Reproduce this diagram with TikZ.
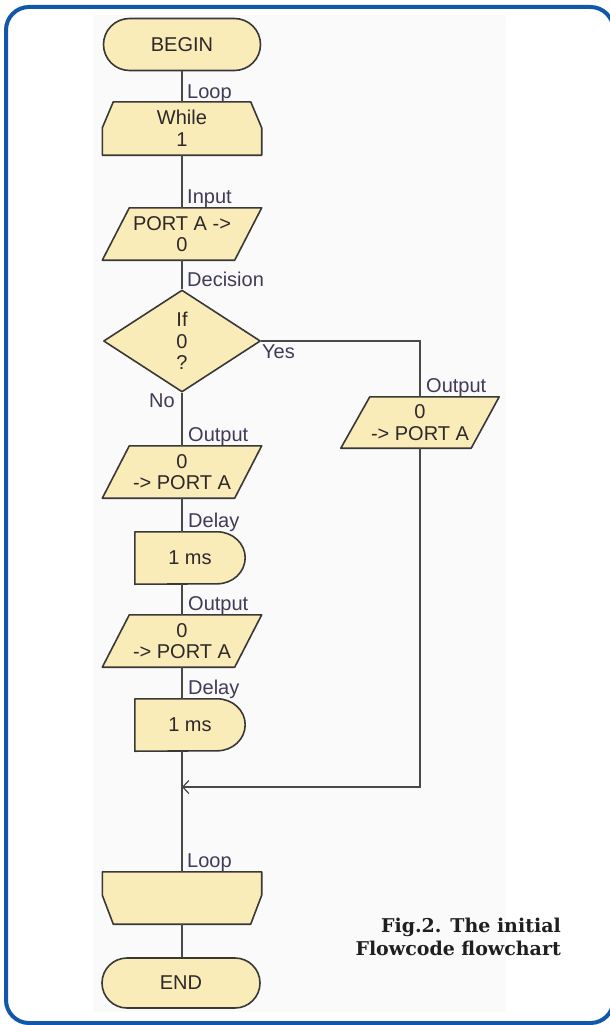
\documentclass[tikz,border=0pt]{standalone}
\usepackage{fontspec}
\setmainfont{Liberation Sans}
\newfontfamily\capfont{DejaVu Serif}
\usetikzlibrary{shapes.misc,shapes.geometric,arrows.meta,backgrounds}
\definecolor{frameblue}{RGB}{18,88,168}
\definecolor{boxfill}{RGB}{250,236,184}
\definecolor{boxline}{RGB}{58,55,55}
\definecolor{wirecol}{RGB}{72,72,72}
\definecolor{lblcol}{RGB}{66,58,86}
\definecolor{txtcol}{RGB}{45,40,42}
\definecolor{bgpanel}{RGB}{250,250,250}
\begin{document}
\begin{tikzpicture}[x=1pt,y=-1pt,
  every node/.style={font=\fontsize{20}{21.5}\selectfont, text=txtcol, align=center, inner sep=0pt},
  shp/.style={draw=boxline, fill=boxfill, line width=1.6pt, line join=round},
  holder/.style={rectangle, minimum width=#1},
  terminal/.style={shp, rounded rectangle, minimum width=157pt, minimum height=52pt},
  wire/.style={draw=wirecol, line width=2pt},
  wirelabel/.style={anchor=base west, text=lblcol},
]
\useasboundingbox (0,0) rectangle (610,1025);
\begin{pgfonlayer}{background}
  \fill[bgpanel] (93,15) rectangle (506,1012);
  \begin{scope}
    \clip (0,0) rectangle (610,1025);
    \draw[frameblue, line width=4pt, rounded corners=23pt] (6,7) rectangle (613.5,1023);
  \end{scope}
\end{pgfonlayer}

% nodes
\node[terminal] (begin) at (182,44.5) {BEGIN};
\node[holder=159pt, minimum height=53pt] (while) at (182,128.5) {While\\1};
\node[holder=159pt, minimum height=52pt] (input) at (182,234) {PORT A ->\\0};
\node[shp, diamond, minimum width=157pt, minimum height=102pt] (dec) at (182,341) {If\\0\\?};
\node[holder=158pt, minimum height=51pt] (outy) at (420,422.5) {0\\-> PORT A};
\node[holder=159pt, minimum height=52pt] (out1) at (182,472) {0\\-> PORT A};
\node[holder=110pt, minimum height=52pt] (del1) at (190,558) {1 ms};
\node[holder=159pt, minimum height=52pt] (out2) at (182,641) {0\\-> PORT A};
\node[holder=110pt, minimum height=52pt] (del2) at (190,725) {1 ms};
\node[holder=159pt, minimum height=52pt] (loopend) at (182,898) {};
\node[terminal, minimum width=158pt, minimum height=50pt] (end) at (181,983) {END};
\coordinate (merge) at (182,787);

% custom outlines
\begin{pgfonlayer}{background}
  \draw[shp] ([xshift=11pt]while.north west) -- ([xshift=-11pt]while.north east)
     -- ([yshift=-26pt]while.north east) -- (while.south east) -- (while.south west)
     -- ([yshift=-26pt]while.north west) -- cycle;
  \foreach \n in {input,out1,out2}{
    \draw[shp] ([xshift=27pt]\n.north west) -- (\n.north east)
       -- ([xshift=-27pt]\n.south east) -- (\n.south west) -- cycle;
  }
  \draw[shp] ([xshift=29pt]outy.north west) -- (outy.north east)
     -- ([xshift=-28pt]outy.south east) -- (outy.south west) -- cycle;
  \foreach \n in {del1,del2}{
    \draw[shp] (\n.north west) -- ([xshift=-28pt]\n.north east)
       arc[start angle=90, end angle=-90, x radius=28pt, y radius=26pt]
       -- (\n.south west) -- cycle;
  }
  \draw[shp] (loopend.north west) -- (loopend.north east)
     -- ([yshift=29pt]loopend.south east) -- ([xshift=-11pt]loopend.south east)
     -- ([xshift=11pt]loopend.south west) -- ([yshift=29pt]loopend.south west) -- cycle;
\end{pgfonlayer}

% connectors
\draw[wire] (begin.south) -- (while.north);
\draw[wire] (while.south) -- (input.north);
\draw[wire] (input.south) -- (dec.north);
\draw[wire] (dec.east) -| (outy.north);
\draw[wire] (dec.south) -- (out1.north);
\draw[wire] (out1.south) -- (out1.south |- del1.north);
\draw[wire] (out1.south |- del1.south) -- (out2.north);
\draw[wire] (out2.south) -- (out2.south |- del2.north);
\draw[wire] (out2.south |- del2.south) -- (loopend.north);
\draw[wire] (loopend.south) -- (loopend.south |- end.north);
\draw[wire, -{Straight Barb[length=6pt, width=13pt, line width=1.2pt]}] (outy.south) |- (merge);

% labels
\node[wirelabel] (l1) at (187,99) {Loop};
\node[wirelabel] (l2) at (187,203.5) {Input};
\node[wirelabel] (l3) at (187,286) {Decision};
\node[wirelabel] (l4) at (262,358) {Yes};
\node[wirelabel] (l5) at (426,392) {Output};
\node[wirelabel, anchor=base east] (l6) at (175,407) {No};
\node[wirelabel] (l7) at (188,441.5) {Output};
\node[wirelabel] (l8) at (188,527) {Delay};
\node[wirelabel] (l9) at (188,610) {Output};
\node[wirelabel] (l10) at (188,694) {Delay};
\node[wirelabel] (l11) at (187,867) {Loop};

% caption
\node[anchor=east, align=right, text=black!88, font=\capfont\bfseries\fontsize{19}{23}\selectfont] (cap) at (561,936.5) {Fig.2. The initial\\Flowcode flowchart};
\end{tikzpicture}
\end{document}
